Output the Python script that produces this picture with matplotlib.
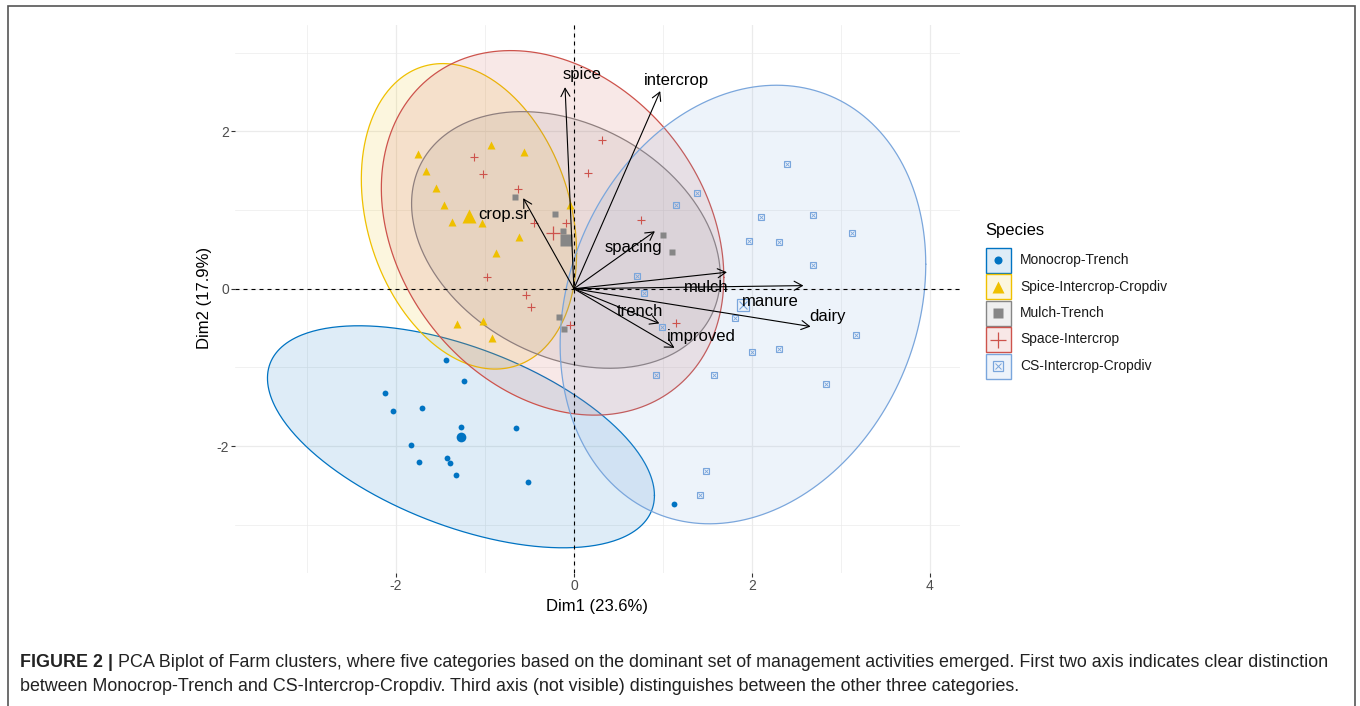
import numpy as np
import matplotlib
matplotlib.use('Agg')
import matplotlib.pyplot as plt
from matplotlib.patches import Rectangle

plt.rcParams['font.family'] = ['Liberation Sans', 'DejaVu Sans']
plt.rcParams['axes.unicode_minus'] = False

# ---------------- data ----------------
groups = ['Monocrop-Trench', 'Spice-Intercrop-Cropdiv', 'Mulch-Trench',
          'Space-Intercrop', 'CS-Intercrop-Cropdiv']
colors = ['#0073C2', '#EFC000', '#868686', '#CD534C', '#7AA6DC']

mono_x = [-1.44, -1.24, -2.12, -2.03, -1.71, -1.27, -0.65, -1.83, -1.74, -1.43, -1.39, -1.33, -0.52, 1.13]
mono_y = [-0.91, -1.17, -1.33, -1.55, -1.51, -1.75, -1.77, -1.98, -2.20, -2.15, -2.21, -2.37, -2.46, -2.74]

spice_x = [-1.75, -0.93, -0.56, -1.66, -1.55, -1.46, -1.37, -1.03, -0.62, -0.88, -0.04, -1.32, -1.02, -0.92]
spice_y = [1.71, 1.82, 1.74, 1.50, 1.28, 1.06, 0.85, 0.84, 0.66, 0.46, 1.06, -0.45, -0.41, -0.63]

mulch_x = [-0.66, -0.21, -0.12, -0.17, -0.11, 1.00, 1.10]
mulch_y = [1.17, 0.95, 0.73, -0.36, -0.51, 0.68, 0.47]

space_x = [-1.12, -1.02, -0.63, -0.45, -0.09, -0.98, -0.54, -0.48, -0.04, 0.32, 0.16, 0.75, 1.15]
space_y = [1.67, 1.46, 1.27, 0.84, 0.83, 0.15, -0.08, -0.23, -0.46, 1.89, 1.47, 0.87, -0.44]

cs_x = [2.40, 1.38, 1.15, 2.10, 2.69, 1.97, 2.31, 3.13, 2.69, 0.71, 0.79, 1.81, 0.99,
        3.17, 2.00, 2.30, 0.92, 1.58, 2.83, 1.48, 1.42]
cs_y = [1.58, 1.22, 1.07, 0.91, 0.94, 0.61, 0.60, 0.71, 0.30, 0.16, -0.05, -0.37, -0.49,
        -0.59, -0.80, -0.76, -1.09, -1.09, -1.21, -2.32, -2.62]

# group centroids (large markers) = ellipse centres
centroid_x = [-1.27, -1.18, -0.09, -0.24, 1.90]
centroid_y = [-1.88, 0.92, 0.62, 0.71, -0.20]

# ellipse spread: half-extent along x, half-extent along y, covariance term
ell_wx = [2.175, 1.21, 1.735, 1.925, 2.055]
ell_wy = [1.41, 1.94, 1.63, 2.315, 2.785]
ell_sxy = [-1.62, -0.57, -0.80, -1.09, 1.05]

# variable arrows
var_names = ['spice', 'intercrop', 'crop.sr', 'spacing', 'mulch', 'manure', 'dairy', 'trench', 'improved']
var_x = [-0.10, 0.97, -0.57, 0.91, 1.72, 2.58, 2.66, 0.96, 1.13]
var_y = [2.56, 2.51, 1.15, 0.73, 0.21, 0.04, -0.48, -0.44, -0.75]
lab_x = [0.09, 1.15, -0.79, 0.67, 1.49, 2.21, 2.85, 0.74, 1.43]
lab_y = [2.72, 2.65, 0.94, 0.52, 0.01, -0.16, -0.35, -0.29, -0.61]

x_ticks = [-2, 0, 2, 4]
y_ticks = [-2, 0, 2]
x_title = 'Dim1 (23.6%)'
y_title = 'Dim2 (17.9%)'
legend_title = 'Species'
caption_bold = 'FIGURE 2 |'
caption_line1 = ('PCA Biplot of Farm clusters, where five categories based on the dominant set of '
                 'management activities emerged. First two axis indicates clear distinction')
caption_line2 = ('between Monocrop-Trench and CS-Intercrop-Cropdiv. Third axis (not visible) '
                 'distinguishes between the other three categories.')

pts_x = [mono_x, spice_x, mulch_x, space_x, cs_x]
pts_y = [mono_y, spice_y, mulch_y, space_y, cs_y]

# ---------------- figure ----------------
W, H = 1360, 706
fig = plt.figure(figsize=(W / 100, H / 100), dpi=100)
ax = fig.add_axes([235 / W, 1 - 573 / H, 725 / W, 548 / H])
ax.set_xlim(-3.81, 4.34)
ax.set_ylim(-3.61, 3.35)

for s in ax.spines.values():
    s.set_visible(False)
ax.set_xticks(x_ticks)
ax.set_yticks(y_ticks)
ax.set_xticks([-3, -1, 1, 3], minor=True)
ax.set_yticks([-3, -1, 1, 3], minor=True)
ax.grid(True, which='major', color='#EBEBEB', lw=0.9, zorder=0)
ax.grid(True, which='minor', color='#EBEBEB', lw=0.5, zorder=0)
ax.set_axisbelow(True)
ax.tick_params(which='major', length=3, width=0.8, color='#333333', labelcolor='#4D4D4D',
               labelsize=10, pad=1.5)
ax.tick_params(which='minor', length=0)

# ellipses
t = np.linspace(0, 2 * np.pi, 400)
circle = np.vstack([np.cos(t), np.sin(t)])
for i in range(len(groups)):
    S = np.array([[ell_wx[i] ** 2, ell_sxy[i]], [ell_sxy[i], ell_wy[i] ** 2]])
    L = np.linalg.cholesky(S)
    e = L @ circle
    ex = e[0] + centroid_x[i]
    ey = e[1] + centroid_y[i]
    ax.fill(ex, ey, facecolor=colors[i], alpha=0.13, edgecolor='none', zorder=1 + i * 0.01)
    ax.plot(ex, ey, color=colors[i], lw=0.9, zorder=1.005 + i * 0.01)

# reference dashed lines
ax.axhline(0, color='black', lw=0.8, dashes=(3.6, 3.6), zorder=2)
ax.axvline(0, color='black', lw=0.8, dashes=(3.6, 3.6), zorder=2)

# points
ms_small = [4.2, 5.2, 4.6, 6.0, 4.6]
ms_big = [7.0, 9.6, 8.2, 10.0, 8.2]
for i in range(len(groups)):
    c = colors[i]
    if i == 0:
        ax.plot(pts_x[i], pts_y[i], 'o', ms=ms_small[i], color=c, mec='none', zorder=3)
        ax.plot(centroid_x[i], centroid_y[i], 'o', ms=ms_big[i], color=c, mec='none', zorder=3)
    elif i == 1:
        ax.plot(pts_x[i], pts_y[i], '^', ms=ms_small[i], color=c, mec='none', zorder=3)
        ax.plot(centroid_x[i], centroid_y[i], '^', ms=ms_big[i], color=c, mec='none', zorder=3)
    elif i == 2:
        ax.plot(pts_x[i], pts_y[i], 's', ms=ms_small[i], color=c, mec='none', zorder=3)
        ax.plot(centroid_x[i], centroid_y[i], 's', ms=ms_big[i], color=c, mec='none', zorder=3)
    elif i == 3:
        ax.plot(pts_x[i], pts_y[i], '+', ms=ms_small[i], color=c, mew=0.8, zorder=3)
        ax.plot(centroid_x[i], centroid_y[i], '+', ms=ms_big[i], color=c, mew=0.9, zorder=3)
    else:
        ax.plot(pts_x[i], pts_y[i], 's', ms=ms_small[i], mfc='none', mec=c, mew=0.8, zorder=3)
        ax.plot(pts_x[i], pts_y[i], 'x', ms=ms_small[i] * 0.6, color=c, mew=0.6, zorder=3)
        ax.plot(centroid_x[i], centroid_y[i], 's', ms=ms_big[i], mfc='none', mec=c, mew=0.9, zorder=3)
        ax.plot(centroid_x[i], centroid_y[i], 'x', ms=ms_big[i] * 0.7, color=c, mew=0.8, zorder=3)

# arrows and labels
for n, vx, vy, lx, ly in zip(var_names, var_x, var_y, lab_x, lab_y):
    ax.annotate('', xy=(vx, vy), xytext=(0, 0),
                arrowprops=dict(arrowstyle='->,head_length=0.45,head_width=0.25', color='black',
                                lw=0.8, shrinkA=0, shrinkB=0, mutation_scale=13),
                zorder=4)
    ax.text(lx, ly, n, ha='center', va='center', fontsize=12, color='black', zorder=5)

# ---------------- overlay (pixel coordinates) ----------------
ov = fig.add_axes([0, 0, 1, 1])
ov.set_xlim(0, W)
ov.set_ylim(H, 0)
ov.axis('off')
ov.patch.set_alpha(0)

# axis titles
ov.text(597, 607, x_title, ha='center', va='center', fontsize=12, color='black')
ov.text(205, 298, y_title, ha='center', va='center', rotation=90, fontsize=12, color='black')

# legend
ov.text(985, 230, legend_title, ha='left', va='center', fontsize=12, color='black')
leg_y = [260, 286.5, 313, 339.5, 366]
for i, g in enumerate(groups):
    c = colors[i]
    cy = leg_y[i]
    ov.add_patch(Rectangle((985.5, cy - 12.5), 25, 25, facecolor=c, alpha=0.13, edgecolor='none'))
    ov.add_patch(Rectangle((985.5, cy - 12.5), 25, 25, facecolor='none', edgecolor=c, lw=1.0))
    if i == 0:
        ov.plot(998, cy, 'o', ms=5.8, color=c, mec='none')
    elif i == 1:
        ov.plot(998, cy, '^', ms=8, color=c, mec='none')
    elif i == 2:
        ov.plot(998, cy, 's', ms=6.5, color=c, mec='none')
    elif i == 3:
        ov.plot(998, cy, '+', ms=12, color=c, mew=0.9)
    else:
        ov.plot(998, cy, 's', ms=6.5, mfc='none', mec=c, mew=0.9)
        ov.plot(998, cy, 'x', ms=4.5, color=c, mew=0.7)
    ov.text(1020, cy, g, ha='left', va='center', fontsize=10, color='#1A1A1A')

# figure frame (left, top, right)
ov.plot([8, 8, 1355, 1355], [H, 6, 6, H], color='#555555', lw=1.2, solid_joinstyle='miter')

# caption
cap_x = 20
cap_fs = 12.9
tb = ov.text(cap_x, 667, caption_bold, ha='left', va='baseline', fontsize=cap_fs,
             fontweight='bold', color='#222222')
fig.canvas.draw()
bb = tb.get_window_extent(fig.canvas.get_renderer())
ov.text(bb.x1 + 5, 667, caption_line1, ha='left', va='baseline', fontsize=cap_fs, color='#222222')
ov.text(cap_x, 691, caption_line2, ha='left', va='baseline', fontsize=cap_fs, color='#222222')

fig.savefig('out.png', dpi=100)
